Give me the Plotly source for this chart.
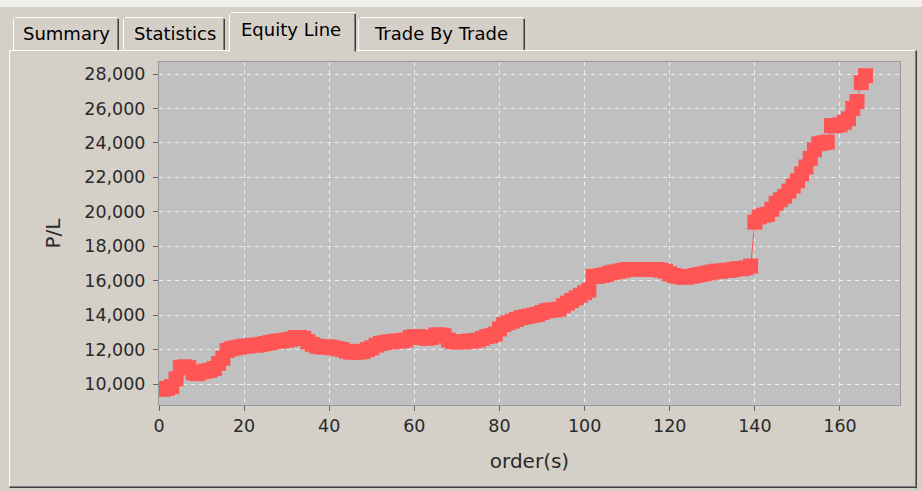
import plotly.graph_objects as go

# Equity curve: cumulative P/L after each order
orders = list(range(167))
pnl = [
    9700, 9700, 9750, 9850, 10300, 10950, 11000, 10950, 10650, 10600,
    10700, 10750, 10800, 10900, 11200, 11500, 11950, 12050, 12100, 12150,
    12200, 12200, 12250, 12250, 12300, 12350, 12400, 12450, 12500, 12500,
    12550, 12600, 12700, 12700, 12650, 12450, 12300, 12200, 12150, 12150,
    12150, 12100, 12050, 12000, 11900, 11850, 11850, 11850, 11900, 12000,
    12100, 12250, 12350, 12400, 12450, 12450, 12500, 12500, 12550, 12700,
    12750, 12750, 12700, 12650, 12700, 12850, 12850, 12800, 12550, 12450,
    12450, 12450, 12450, 12500, 12500, 12550, 12650, 12750, 12800, 12900,
    13200, 13450, 13550, 13650, 13750, 13850, 13900, 13950, 14000, 14050,
    14150, 14250, 14300, 14300, 14350, 14550, 14700, 14850, 15000, 15150,
    15300, 15450, 16250, 16250, 16300, 16350, 16450, 16500, 16550, 16600,
    16650, 16650, 16650, 16650, 16650, 16650, 16650, 16650, 16600, 16550,
    16400, 16300, 16250, 16200, 16200, 16250, 16300, 16350, 16400, 16450,
    16500, 16550, 16550, 16600, 16600, 16650, 16700, 16700, 16750, 16850,
    19400, 19700, 19800, 19850, 20150, 20500, 20700, 20900, 21200, 21500,
    21800, 22200, 22600, 23100, 23600, 23950, 24000, 24050, 25000, 25000,
    25050, 25200, 25400, 26000, 26400, 27500, 27900,
]

x_ticks = [0, 20, 40, 60, 80, 100, 120, 140, 160]
y_ticks = [10000, 12000, 14000, 16000, 18000, 20000, 22000, 24000, 26000, 28000]
tab_labels = ["Summary", "Statistics", "Equity Line", "Trade By Trade"]
selected_tab = "Equity Line"

# window geometry (pixels)
W, H = 922, 491
L, R, T, B = 159, 22, 62, 86
PW, PH = W - L - R, H - T - B

WIN_BG = "#d4d0c8"
PLOT_BG = "#c0c0c0"
SERIES = "#ff5555"
HILITE = "#ffffff"
SHADOW = "#808080"
DARK = "#404040"


def fx(x):
    return (x - L) / PW


def fy(y):
    return (H - B - y) / PH


def hline(x0, x1, y, color):
    return dict(type="line", xref="paper", yref="paper", layer="below",
                x0=fx(x0), x1=fx(x1), y0=fy(y), y1=fy(y),
                line=dict(color=color, width=1))


def vline(x, y0, y1, color):
    return dict(type="line", xref="paper", yref="paper", layer="below",
                x0=fx(x), x1=fx(x), y0=fy(y0), y1=fy(y1),
                line=dict(color=color, width=1))


shapes = []
annotations = []

# light strip along the top of the window
shapes.append(dict(type="rect", xref="paper", yref="paper", layer="below",
                   x0=fx(0), x1=fx(W), y0=fy(0), y1=fy(7),
                   fillcolor="#f1f0ec", line=dict(width=0)))

# tab strip: (left, right, top, text centre x, text centre y)
tab_geom = [
    (13, 119, 17, 66, 34),
    (123, 225, 17, 175, 34),
    (229, 356, 12, 291, 30),
    (358, 525, 17, 441, 34),
]
PANEL_TOP, PANEL_LEFT, PANEL_RIGHT, PANEL_BOTTOM = 50.5, 9.5, 916.5, 487.5

for label, (tl, tr, tt, cx, cy) in zip(tab_labels, tab_geom):
    sel = label == selected_tab
    bottom = PANEL_TOP + (1 if sel else 0)
    shapes.append(vline(tl + 0.5, tt + 2, bottom, HILITE))
    shapes.append(hline(tl + 2, tr - 2, tt + 0.5, HILITE))
    shapes.append(vline(tr - 0.5, tt + 2, bottom, DARK))
    shapes.append(vline(tr - 1.5, tt + 2, bottom, SHADOW))
    annotations.append(dict(text=label, x=fx(cx), y=fy(cy), xref="paper", yref="paper",
                            showarrow=False, xanchor="center", yanchor="middle",
                            font=dict(family="DejaVu Sans", size=18, color="#000000")))

# content panel border (broken under the selected tab)
sel_l, sel_r = tab_geom[2][0], tab_geom[2][1]
shapes.append(hline(PANEL_LEFT, sel_l, PANEL_TOP, HILITE))
shapes.append(hline(sel_r, PANEL_RIGHT, PANEL_TOP, HILITE))
shapes.append(vline(PANEL_LEFT, PANEL_TOP, PANEL_BOTTOM, HILITE))
shapes.append(vline(PANEL_RIGHT - 1, PANEL_TOP, PANEL_BOTTOM, SHADOW))
shapes.append(vline(PANEL_RIGHT, PANEL_TOP, PANEL_BOTTOM + 1, DARK))
shapes.append(hline(PANEL_LEFT, PANEL_RIGHT, PANEL_BOTTOM - 1, SHADOW))
shapes.append(hline(PANEL_LEFT, PANEL_RIGHT, PANEL_BOTTOM, DARK))

fig = go.Figure()
fig.add_trace(go.Scatter(
    x=orders, y=pnl, mode="lines+markers",
    line=dict(color=SERIES, width=1),
    marker=dict(symbol="square", size=15, color=SERIES, line=dict(width=0)),
    showlegend=False, hoverinfo="x+y",
))

tick_font = dict(family="DejaVu Sans", size=17.5, color="#2a2a2a")
title_font = dict(family="DejaVu Sans", size=20, color="#2a2a2a")
grid = dict(showgrid=True, gridcolor="#eeeeee", gridwidth=1, griddash="4px,4px",
            showline=True, linecolor="#999999", linewidth=1, mirror=True,
            ticks="outside", ticklen=5, tickcolor="#666666", tickwidth=1,
            zeroline=False, tickfont=tick_font)

fig.update_layout(
    width=W, height=H,
    margin=dict(l=L, r=R, t=T, b=B, pad=0),
    paper_bgcolor=WIN_BG, plot_bgcolor=PLOT_BG,
    shapes=shapes, annotations=annotations,
    xaxis=dict(range=[0, 174.1], tickvals=x_ticks,
               title=dict(text="order(s)", font=title_font, standoff=18), **grid),
    yaxis=dict(range=[8781, 28697], tickvals=y_ticks, tickformat=",d",
               title=dict(text="P/L", font=title_font, standoff=18),
               ticklabelstandoff=4, **grid),
)

fig.write_html("out.html")
